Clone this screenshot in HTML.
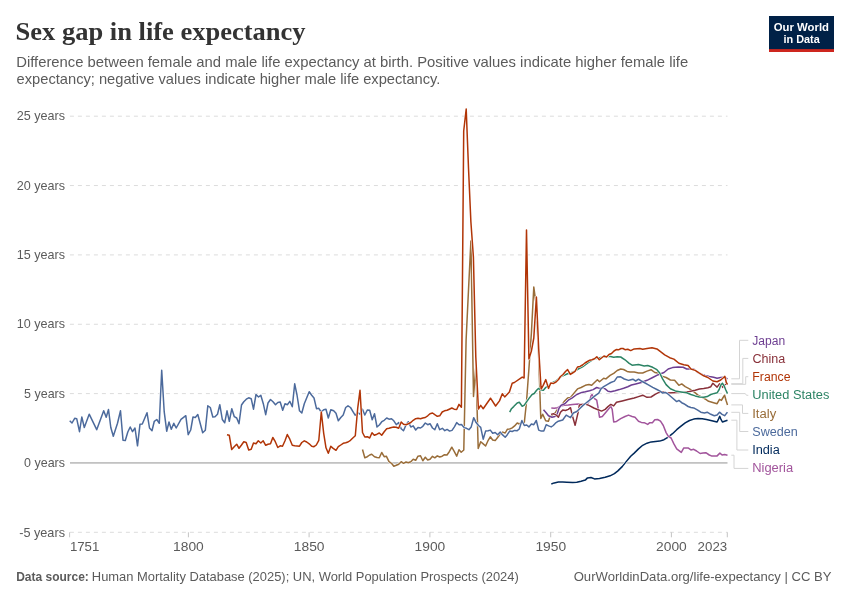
<!DOCTYPE html>
<html lang="en"><head><meta charset="utf-8"><title>Sex gap in life expectancy</title>
<style>html,body{margin:0;padding:0;background:#fff}svg{display:block}text{font-family:"Liberation Sans",Arial,sans-serif}.t{font-family:"Liberation Serif","Times New Roman",serif;font-weight:bold}.ln{fill:none;stroke-width:1.5;stroke-linejoin:round;stroke-linecap:butt}.ol{fill:none;stroke:#fff;stroke-width:2.5;stroke-linejoin:round}.cn{fill:none;stroke:#d4d4d4;stroke-width:1}</style></head><body>
<svg width="850" height="600" viewBox="0 0 850 600">
<rect width="850" height="600" fill="#fff"/>
<text class="t" x="15.6" y="39.9" font-size="26" fill="#333" textLength="290" lengthAdjust="spacingAndGlyphs">Sex gap in life expectancy</text>
<text x="16.2" y="66.8" font-size="15" fill="#5b5b5b" textLength="672" lengthAdjust="spacingAndGlyphs">Difference between female and male life expectancy at birth. Positive values indicate higher female life</text>
<text x="16.6" y="84.4" font-size="15" fill="#5b5b5b" textLength="423.8" lengthAdjust="spacingAndGlyphs">expectancy; negative values indicate higher male life expectancy.</text>
<g><rect x="769" y="16" width="65" height="36" fill="#002147"/><rect x="769" y="49.1" width="65" height="2.9" fill="#ce261e"/>
<text x="773.8" y="30.5" font-size="11.2" font-weight="bold" fill="#fff" textLength="55.2" lengthAdjust="spacingAndGlyphs">Our World</text>
<text x="783.5" y="42.7" font-size="11.2" font-weight="bold" fill="#fff" textLength="36.3" lengthAdjust="spacingAndGlyphs">in Data</text></g>
<line x1="69.9" x2="727.5" y1="116.2" y2="116.2" stroke="#dcdcdc" stroke-width="1" stroke-dasharray="4 4"/>
<text x="16.7" y="120.4" font-size="13" fill="#5b5b5b" textLength="48.3" lengthAdjust="spacingAndGlyphs">25 years</text>
<line x1="69.9" x2="727.5" y1="185.55" y2="185.55" stroke="#dcdcdc" stroke-width="1" stroke-dasharray="4 4"/>
<text x="16.7" y="189.8" font-size="13" fill="#5b5b5b" textLength="48.3" lengthAdjust="spacingAndGlyphs">20 years</text>
<line x1="69.9" x2="727.5" y1="254.9" y2="254.9" stroke="#dcdcdc" stroke-width="1" stroke-dasharray="4 4"/>
<text x="16.7" y="259.1" font-size="13" fill="#5b5b5b" textLength="48.3" lengthAdjust="spacingAndGlyphs">15 years</text>
<line x1="69.9" x2="727.5" y1="324.25" y2="324.25" stroke="#dcdcdc" stroke-width="1" stroke-dasharray="4 4"/>
<text x="16.7" y="328.4" font-size="13" fill="#5b5b5b" textLength="48.3" lengthAdjust="spacingAndGlyphs">10 years</text>
<line x1="69.9" x2="727.5" y1="393.6" y2="393.6" stroke="#dcdcdc" stroke-width="1" stroke-dasharray="4 4"/>
<text x="24.1" y="397.8" font-size="13" fill="#5b5b5b" textLength="40.9" lengthAdjust="spacingAndGlyphs">5 years</text>
<line x1="70.0" x2="727.5" y1="462.95" y2="462.95" stroke="#929292" stroke-width="1"/>
<text x="24.1" y="467.1" font-size="13" fill="#5b5b5b" textLength="40.9" lengthAdjust="spacingAndGlyphs">0 years</text>
<line x1="69.9" x2="727.5" y1="532.3" y2="532.3" stroke="#dcdcdc" stroke-width="1" stroke-dasharray="4 4"/>
<text x="19.2" y="536.5" font-size="13" fill="#5b5b5b" textLength="45.8" lengthAdjust="spacingAndGlyphs">-5 years</text>
<line x1="69.6" x2="69.6" y1="532.3" y2="537.3" stroke="#c4c4c4" stroke-width="1"/>
<text x="69.9" y="550.5" font-size="13" fill="#5b5b5b" textLength="29.4" lengthAdjust="spacingAndGlyphs">1751</text>
<line x1="188.4" x2="188.4" y1="532.3" y2="537.3" stroke="#c4c4c4" stroke-width="1"/>
<text x="173.1" y="550.5" font-size="13" fill="#5b5b5b" textLength="30.7" lengthAdjust="spacingAndGlyphs">1800</text>
<line x1="309.1" x2="309.1" y1="532.3" y2="537.3" stroke="#c4c4c4" stroke-width="1"/>
<text x="293.8" y="550.5" font-size="13" fill="#5b5b5b" textLength="30.7" lengthAdjust="spacingAndGlyphs">1850</text>
<line x1="429.9" x2="429.9" y1="532.3" y2="537.3" stroke="#c4c4c4" stroke-width="1"/>
<text x="414.6" y="550.5" font-size="13" fill="#5b5b5b" textLength="30.7" lengthAdjust="spacingAndGlyphs">1900</text>
<line x1="550.7" x2="550.7" y1="532.3" y2="537.3" stroke="#c4c4c4" stroke-width="1"/>
<text x="535.4" y="550.5" font-size="13" fill="#5b5b5b" textLength="30.7" lengthAdjust="spacingAndGlyphs">1950</text>
<line x1="671.4" x2="671.4" y1="532.3" y2="537.3" stroke="#c4c4c4" stroke-width="1"/>
<text x="656.1" y="550.5" font-size="13" fill="#5b5b5b" textLength="30.7" lengthAdjust="spacingAndGlyphs">2000</text>
<line x1="727.3" x2="727.3" y1="532.3" y2="537.3" stroke="#c4c4c4" stroke-width="1"/>
<text x="697.6" y="550.5" font-size="13" fill="#5b5b5b" textLength="29.6" lengthAdjust="spacingAndGlyphs">2023</text>
<path class="cn" d="M731.3,378.8H739.5V340.3H748.3"/>
<path class="cn" d="M731.3,383.7H742.8V358.4H748.3"/>
<path class="cn" d="M731.3,384.3H745.7V376.7H748.3"/>
<path class="cn" d="M731.3,393.6H745.3L746.5,395.3H748.3"/>
<path class="cn" d="M731.3,404.9H742.5V413.4H748.3"/>
<path class="cn" d="M731.3,412.3H739.7V431.5H748.3"/>
<path class="cn" d="M731.3,420.2H736.9V450H748.3"/>
<path class="cn" d="M731.3,455.2H734V468.4H748.3"/>
<polyline class="ol" points="551.3,484 554.2,482.9 558.4,481.9 562.7,481.9 566.9,482.2 572.6,482.6 576.8,482.2 581.1,481.2 585.3,480.1 587.5,477.9 591,477.5 594.5,478.9 599.5,478.4 605.2,477.2 610.1,475.8 614.4,473.7 617.9,470.9 622.2,466.6 626.4,461.4 630.7,456.3 634.2,453.1 638.5,448.9 642.7,445.3 647,443.2 651.2,441.9 655.5,441.5 659.7,441.1 664,439.7 668.2,437.1 672.5,433.7 676.7,429.7 681,426.2 685.2,422.9 689.5,420.5 693.7,419.1 698,418.4 702.2,418.7 706.5,419.5 710.8,420.5 715,421.5 717.1,422 718.5,419.1 719.7,416.3 720.9,419.1 722.4,422 724.6,421.2 727.5,420.2"/>
<polyline class="ln" stroke="#00295B" points="551.3,484 554.2,482.9 558.4,481.9 562.7,481.9 566.9,482.2 572.6,482.6 576.8,482.2 581.1,481.2 585.3,480.1 587.5,477.9 591,477.5 594.5,478.9 599.5,478.4 605.2,477.2 610.1,475.8 614.4,473.7 617.9,470.9 622.2,466.6 626.4,461.4 630.7,456.3 634.2,453.1 638.5,448.9 642.7,445.3 647,443.2 651.2,441.9 655.5,441.5 659.7,441.1 664,439.7 668.2,437.1 672.5,433.7 676.7,429.7 681,426.2 685.2,422.9 689.5,420.5 693.7,419.1 698,418.4 702.2,418.7 706.5,419.5 710.8,420.5 715,421.5 717.1,422 718.5,419.1 719.7,416.3 720.9,419.1 722.4,422 724.6,421.2 727.5,420.2"/>
<polyline class="ol" points="362.5,449.5 364.8,457.8 367.3,456.7 369.7,455 371.7,454.2 374.5,456.7 377,457.5 379.3,457.8 381.7,452.5 384.2,456.7 386.3,456.2 389,461.7 391.5,463.3 393.8,466.3 396.3,465.3 398.7,464.2 401.2,461.7 403.5,463.3 406,462 408.3,462.8 410.8,461.7 413.2,459.2 415.7,460.3 418,456.2 420.5,455.8 422.8,460.8 425.3,457.2 427.7,460 430,459.2 432.5,456.3 434.8,457.8 437.3,455.8 439.7,457 442.2,456.2 444.5,454.7 447,455 449.3,451.7 451.8,447.2 454.2,451.3 456.7,456.2 459,449.7 461.2,452.2 463.8,450 466.1,340 468.5,290 470.9,241 473.5,396.5 475.9,366 478.2,448.5 480.7,441.7 483.2,443.9 485.6,446 488.2,440.3 490.3,436.8 492.7,440 495.2,440.6 497.6,437.5 500.2,434 502.6,432.1 505.2,433 507.3,429.3 509.7,429 512.2,427.9 514.6,425.9 517.2,423 519.3,424 521.9,421.9 524.3,422.6 526.5,402 528.9,369 531.4,333 533.8,287 536.2,305 538.6,355 540.8,418.5 542.7,414.2 545.7,420.7 548.4,421.2 549.8,417.3 552.5,415 555.6,412.2 558.4,408 561.2,405.9 564.1,401.6 567.6,398.1 570.5,397.4 574,393.1 577.5,388.9 581.1,387.5 585.3,385.3 588.9,384.6 591.7,385.3 594.5,382.5 597.4,379.7 599.5,381.8 603.7,378.2 605.9,378.9 610.1,375.4 613.7,373.3 617.2,370.5 620.7,369 623.6,369.5 627.1,371.4 629.9,371.9 634.2,372.1 638.5,373 642.7,373 647,371.1 651,369.7 654.8,372.5 657.6,373 661.9,376.1 666.1,377.5 670.4,380 674.6,380.3 678.9,385.3 681.7,383.9 685.2,386.7 689.5,388.8 693.7,391.7 698,395.2 702.2,397.3 705.8,399.4 708.6,401.3 713.6,402.7 717.1,403.7 719.5,399.4 721.4,400.4 722.8,398 724.6,395.2 726,400.2 727.5,404.9"/>
<polyline class="ln" stroke="#996D39" points="362.5,449.5 364.8,457.8 367.3,456.7 369.7,455 371.7,454.2 374.5,456.7 377,457.5 379.3,457.8 381.7,452.5 384.2,456.7 386.3,456.2 389,461.7 391.5,463.3 393.8,466.3 396.3,465.3 398.7,464.2 401.2,461.7 403.5,463.3 406,462 408.3,462.8 410.8,461.7 413.2,459.2 415.7,460.3 418,456.2 420.5,455.8 422.8,460.8 425.3,457.2 427.7,460 430,459.2 432.5,456.3 434.8,457.8 437.3,455.8 439.7,457 442.2,456.2 444.5,454.7 447,455 449.3,451.7 451.8,447.2 454.2,451.3 456.7,456.2 459,449.7 461.2,452.2 463.8,450 466.1,340 468.5,290 470.9,241 473.5,396.5 475.9,366 478.2,448.5 480.7,441.7 483.2,443.9 485.6,446 488.2,440.3 490.3,436.8 492.7,440 495.2,440.6 497.6,437.5 500.2,434 502.6,432.1 505.2,433 507.3,429.3 509.7,429 512.2,427.9 514.6,425.9 517.2,423 519.3,424 521.9,421.9 524.3,422.6 526.5,402 528.9,369 531.4,333 533.8,287 536.2,305 538.6,355 540.8,418.5 542.7,414.2 545.7,420.7 548.4,421.2 549.8,417.3 552.5,415 555.6,412.2 558.4,408 561.2,405.9 564.1,401.6 567.6,398.1 570.5,397.4 574,393.1 577.5,388.9 581.1,387.5 585.3,385.3 588.9,384.6 591.7,385.3 594.5,382.5 597.4,379.7 599.5,381.8 603.7,378.2 605.9,378.9 610.1,375.4 613.7,373.3 617.2,370.5 620.7,369 623.6,369.5 627.1,371.4 629.9,371.9 634.2,372.1 638.5,373 642.7,373 647,371.1 651,369.7 654.8,372.5 657.6,373 661.9,376.1 666.1,377.5 670.4,380 674.6,380.3 678.9,385.3 681.7,383.9 685.2,386.7 689.5,388.8 693.7,391.7 698,395.2 702.2,397.3 705.8,399.4 708.6,401.3 713.6,402.7 717.1,403.7 719.5,399.4 721.4,400.4 722.8,398 724.6,395.2 726,400.2 727.5,404.9"/>
<polyline class="ol" points="551.3,408 554.2,408.3 557.7,407.7 560.5,405.9 564.1,405.2 568.3,404.9 572.6,404.4 578.2,404 582.5,404.4 587.5,403.7 589.6,400.9 591,395.9 592.1,394.5 593.8,398.1 596.7,400.2 598.1,408 599.5,417.2 602.3,416.5 605.9,412.2 609.4,408 610.8,406.3 612.2,409.4 613.7,421.9 616.5,421.4 620.7,418.6 625,416.5 628.5,415.1 632.1,416.5 635,417.3 638.5,421.2 641.3,422.4 644.2,422.7 647.7,424.4 649.8,422.7 652.4,422.7 654.8,419.8 657.6,419.5 660.5,421.2 663.3,425.5 666.1,432.6 668.2,436.1 671.1,438 673.9,443.9 676.7,448.9 681.3,452.4 683.8,447.9 688.1,447.9 690.9,449.9 693.7,449.3 696.6,451 700.1,453.5 703,453.1 705.8,452.7 709.3,455 711.4,455.9 717.1,455.9 719.9,453.1 722.1,455 724.6,454.5 727.5,455.2"/>
<polyline class="ln" stroke="#A2559C" points="551.3,408 554.2,408.3 557.7,407.7 560.5,405.9 564.1,405.2 568.3,404.9 572.6,404.4 578.2,404 582.5,404.4 587.5,403.7 589.6,400.9 591,395.9 592.1,394.5 593.8,398.1 596.7,400.2 598.1,408 599.5,417.2 602.3,416.5 605.9,412.2 609.4,408 610.8,406.3 612.2,409.4 613.7,421.9 616.5,421.4 620.7,418.6 625,416.5 628.5,415.1 632.1,416.5 635,417.3 638.5,421.2 641.3,422.4 644.2,422.7 647.7,424.4 649.8,422.7 652.4,422.7 654.8,419.8 657.6,419.5 660.5,421.2 663.3,425.5 666.1,432.6 668.2,436.1 671.1,438 673.9,443.9 676.7,448.9 681.3,452.4 683.8,447.9 688.1,447.9 690.9,449.9 693.7,449.3 696.6,451 700.1,453.5 703,453.1 705.8,452.7 709.3,455 711.4,455.9 717.1,455.9 719.9,453.1 722.1,455 724.6,454.5 727.5,455.2"/>
<polyline class="ol" points="543.5,409.7 545.7,412.2 548.5,415.8 552,417.2 554.9,416.5 557,414.4 559.1,408 561.2,405.2 564.8,403.7 568.3,400.2 571.9,398.1 576.8,394.5 581.8,392.4 585.3,391.7 589.6,390.7 593.1,389.6 596.7,387.5 599.5,388.4 602.3,387.9 605.2,388.9 608,391.3 610.8,391.7 615.1,390.7 619.3,389.6 623.6,388.2 627.8,386.7 631.4,385 635.7,383.9 641.3,382.5 647,380.3 652.7,377.5 658.3,374.7 664,372.5 668.2,369 672.5,367.6 678.2,366.9 683.1,367.3 686.7,369 693.7,369 696.6,371.8 700.8,374 705.1,375.4 709.3,376.4 713.6,377.2 717.1,378.2 720.7,377.5 723.5,377.2 724.9,377.5 727.5,378.8"/>
<polyline class="ln" stroke="#6D3E91" points="543.5,409.7 545.7,412.2 548.5,415.8 552,417.2 554.9,416.5 557,414.4 559.1,408 561.2,405.2 564.8,403.7 568.3,400.2 571.9,398.1 576.8,394.5 581.8,392.4 585.3,391.7 589.6,390.7 593.1,389.6 596.7,387.5 599.5,388.4 602.3,387.9 605.2,388.9 608,391.3 610.8,391.7 615.1,390.7 619.3,389.6 623.6,388.2 627.8,386.7 631.4,385 635.7,383.9 641.3,382.5 647,380.3 652.7,377.5 658.3,374.7 664,372.5 668.2,369 672.5,367.6 678.2,366.9 683.1,367.3 686.7,369 693.7,369 696.6,371.8 700.8,374 705.1,375.4 709.3,376.4 713.6,377.2 717.1,378.2 720.7,377.5 723.5,377.2 724.9,377.5 727.5,378.8"/>
<polyline class="ol" points="551,414.4 553.5,413.7 556.3,415.1 558.4,417.2 560.5,412.2 562.7,410.1 565.5,410.5 568.3,409.4 570.5,407.7 572.6,416.5 575.1,425.3 578,412.8 579.4,404.9 581.8,404.4 585.3,404 588.9,405.4 593.8,408 598.1,409.7 601.6,411.1 605.2,409.4 608,406.6 610.8,404.4 613.7,405.9 616.5,402.3 622.2,400.9 627.8,399.5 634.2,398 638.5,396.6 642.7,395.2 647,397.3 651,397 655.5,394.2 659,392.4 662.6,391.7 666.8,393.1 672.5,392.8 678.2,392.4 683.8,391.7 689.5,391.4 695.2,390.2 699.4,389.1 703.7,388.5 707.9,387.7 710.8,386.7 712.9,383.2 715,385.3 717.1,387.1 719.5,383.9 721.4,385.3 722.8,387.4 724.9,384.6 727.5,383.7"/>
<polyline class="ln" stroke="#883039" points="551,414.4 553.5,413.7 556.3,415.1 558.4,417.2 560.5,412.2 562.7,410.1 565.5,410.5 568.3,409.4 570.5,407.7 572.6,416.5 575.1,425.3 578,412.8 579.4,404.9 581.8,404.4 585.3,404 588.9,405.4 593.8,408 598.1,409.7 601.6,411.1 605.2,409.4 608,406.6 610.8,404.4 613.7,405.9 616.5,402.3 622.2,400.9 627.8,399.5 634.2,398 638.5,396.6 642.7,395.2 647,397.3 651,397 655.5,394.2 659,392.4 662.6,391.7 666.8,393.1 672.5,392.8 678.2,392.4 683.8,391.7 689.5,391.4 695.2,390.2 699.4,389.1 703.7,388.5 707.9,387.7 710.8,386.7 712.9,383.2 715,385.3 717.1,387.1 719.5,383.9 721.4,385.3 722.8,387.4 724.9,384.6 727.5,383.7"/>
<polyline class="ol" points="69.7,420.8 72,423 74.7,418.3 76.7,418.7 79.5,431.7 81.8,417 84.3,427.5 89.2,414.2 96.7,429.7 103.7,410.8 106.2,417.2 108.5,409.5 110.8,427.5 113.3,436.3 117.5,423.3 120.5,410.8 123,440.3 125.3,440.5 127.8,432 130.2,427 132.5,431.7 135,428 137.5,445.8 140,424.2 142.3,424 147,412.7 149.5,428 152,430.7 154.3,421.3 156.8,419.5 159.3,423.3 161.7,370.3 164.2,411.7 166.7,431.2 169,422 171.3,429.2 173.8,423.3 176.2,428 181,419.3 185.8,415.7 188.2,434.7 190.7,430 193,417 195.3,417.5 197.8,414.5 202.7,432.7 205.3,430.3 207.8,405.8 210.3,407.5 212.8,417 215,416.7 217.5,414.2 219.8,404.7 222.3,419.5 224.7,422.8 227,410.8 229.3,421.3 231.8,408.7 234.3,416.7 236.7,418 239,423.7 241.5,405 243.8,401.7 246.3,399.2 248.7,397.8 251.2,398.7 253.5,409.2 256,394.5 258.5,397 260.8,395.3 263.3,403.7 265.7,414.7 268,403 270.5,399.5 273,401.7 275.5,404.7 277.8,402.5 280.2,402 282.7,410.3 285,403.7 287.5,404.7 289.8,401.3 292.3,406.7 294.7,383.8 297,395 299.5,410.8 301.8,413 304.3,403.7 309.2,391.7 311.7,395.3 314,398 316.5,408.7 318.8,408.3 321.2,412 323.7,409.7 326,409.2 328.3,418 330.8,409.7 333.7,410.8 336,413.3 338.3,420.8 340.8,417.5 343.2,415 345.7,407.5 348,405.8 350.5,407.5 352.8,411.3 355.3,415.3 357.7,412.5 360,414.2 362.5,409.2 364.8,415 367.3,410 369.7,410.3 372.2,419.7 374.5,413.7 377,427 379.3,425 381.8,421.7 384.2,420.3 386.7,418 389,419.2 391.5,418.7 393.8,420.8 396.3,424.7 398.7,422.5 401.2,428.7 403.5,430.8 406,425 408.3,421.7 410.8,427 413.2,425.8 415.7,430 418,427.5 420.5,428 422.8,426.3 425.3,423 427.7,424.7 430,423.7 432.5,428 434.8,429.7 437.3,423.8 439.7,429.7 442.4,428.3 444.8,430.7 447.1,429.4 449.6,431.1 452,430.4 454.4,426.9 456.7,422.6 459.1,424.7 461.5,424.5 464.1,427.6 466.5,428.3 468.9,429.7 471.2,426.9 473.7,417.7 476.1,422.6 478.5,425.5 480.7,427.3 483.2,439.2 485.6,431.1 488.2,430.7 490.3,430.1 492.7,433.2 495.2,432.5 497.6,434.7 500.2,432.1 502.6,434.9 505.2,437.2 507.3,434.7 509.7,431.1 512.2,431.5 514.6,430.4 517.2,430.7 519.3,429 521.9,420.5 524.3,425.5 526.7,425 528.9,426.9 531.4,424 533.8,424.7 536.3,420.5 538.7,430.1 541.3,431.1 543.8,431.1 546.2,424.7 548.6,425.9 551.2,426.9 553.3,425.5 556.1,422.6 558.3,421.2 562.7,420 566.2,415.1 570.5,417.6 573.3,413 576.8,411.5 580.4,408 582.5,405.9 586,403 589.6,400.2 593.1,397.4 595.9,395.2 598.8,393.1 600.9,388.9 603.7,386.7 608,384.2 610.8,382.5 614.4,381.1 617.2,377.1 620.7,376.8 624.3,379 628.5,380.4 630,380 632.8,379.2 635.7,381 638.5,379.2 641.3,381 644.2,382.5 648.4,384.9 652.7,387.4 656.9,389.5 660.5,391.4 662.6,393.1 665.4,392.4 668.2,394.2 672.5,398 676.7,401.6 678.9,400.4 681.7,402.7 683.8,403.7 688.1,406.5 690.9,407.5 693.7,407.9 697.3,409.8 700.8,412.2 704.4,412.9 707.2,412.2 710.8,414.3 714.3,415.7 717.1,415 719.5,412.2 722.1,414.3 724.6,415.7 726.3,413.6 727.5,412.3"/>
<polyline class="ln" stroke="#4C6A9C" points="69.7,420.8 72,423 74.7,418.3 76.7,418.7 79.5,431.7 81.8,417 84.3,427.5 89.2,414.2 96.7,429.7 103.7,410.8 106.2,417.2 108.5,409.5 110.8,427.5 113.3,436.3 117.5,423.3 120.5,410.8 123,440.3 125.3,440.5 127.8,432 130.2,427 132.5,431.7 135,428 137.5,445.8 140,424.2 142.3,424 147,412.7 149.5,428 152,430.7 154.3,421.3 156.8,419.5 159.3,423.3 161.7,370.3 164.2,411.7 166.7,431.2 169,422 171.3,429.2 173.8,423.3 176.2,428 181,419.3 185.8,415.7 188.2,434.7 190.7,430 193,417 195.3,417.5 197.8,414.5 202.7,432.7 205.3,430.3 207.8,405.8 210.3,407.5 212.8,417 215,416.7 217.5,414.2 219.8,404.7 222.3,419.5 224.7,422.8 227,410.8 229.3,421.3 231.8,408.7 234.3,416.7 236.7,418 239,423.7 241.5,405 243.8,401.7 246.3,399.2 248.7,397.8 251.2,398.7 253.5,409.2 256,394.5 258.5,397 260.8,395.3 263.3,403.7 265.7,414.7 268,403 270.5,399.5 273,401.7 275.5,404.7 277.8,402.5 280.2,402 282.7,410.3 285,403.7 287.5,404.7 289.8,401.3 292.3,406.7 294.7,383.8 297,395 299.5,410.8 301.8,413 304.3,403.7 309.2,391.7 311.7,395.3 314,398 316.5,408.7 318.8,408.3 321.2,412 323.7,409.7 326,409.2 328.3,418 330.8,409.7 333.7,410.8 336,413.3 338.3,420.8 340.8,417.5 343.2,415 345.7,407.5 348,405.8 350.5,407.5 352.8,411.3 355.3,415.3 357.7,412.5 360,414.2 362.5,409.2 364.8,415 367.3,410 369.7,410.3 372.2,419.7 374.5,413.7 377,427 379.3,425 381.8,421.7 384.2,420.3 386.7,418 389,419.2 391.5,418.7 393.8,420.8 396.3,424.7 398.7,422.5 401.2,428.7 403.5,430.8 406,425 408.3,421.7 410.8,427 413.2,425.8 415.7,430 418,427.5 420.5,428 422.8,426.3 425.3,423 427.7,424.7 430,423.7 432.5,428 434.8,429.7 437.3,423.8 439.7,429.7 442.4,428.3 444.8,430.7 447.1,429.4 449.6,431.1 452,430.4 454.4,426.9 456.7,422.6 459.1,424.7 461.5,424.5 464.1,427.6 466.5,428.3 468.9,429.7 471.2,426.9 473.7,417.7 476.1,422.6 478.5,425.5 480.7,427.3 483.2,439.2 485.6,431.1 488.2,430.7 490.3,430.1 492.7,433.2 495.2,432.5 497.6,434.7 500.2,432.1 502.6,434.9 505.2,437.2 507.3,434.7 509.7,431.1 512.2,431.5 514.6,430.4 517.2,430.7 519.3,429 521.9,420.5 524.3,425.5 526.7,425 528.9,426.9 531.4,424 533.8,424.7 536.3,420.5 538.7,430.1 541.3,431.1 543.8,431.1 546.2,424.7 548.6,425.9 551.2,426.9 553.3,425.5 556.1,422.6 558.3,421.2 562.7,420 566.2,415.1 570.5,417.6 573.3,413 576.8,411.5 580.4,408 582.5,405.9 586,403 589.6,400.2 593.1,397.4 595.9,395.2 598.8,393.1 600.9,388.9 603.7,386.7 608,384.2 610.8,382.5 614.4,381.1 617.2,377.1 620.7,376.8 624.3,379 628.5,380.4 630,380 632.8,379.2 635.7,381 638.5,379.2 641.3,381 644.2,382.5 648.4,384.9 652.7,387.4 656.9,389.5 660.5,391.4 662.6,393.1 665.4,392.4 668.2,394.2 672.5,398 676.7,401.6 678.9,400.4 681.7,402.7 683.8,403.7 688.1,406.5 690.9,407.5 693.7,407.9 697.3,409.8 700.8,412.2 704.4,412.9 707.2,412.2 710.8,414.3 714.3,415.7 717.1,415 719.5,412.2 722.1,414.3 724.6,415.7 726.3,413.6 727.5,412.3"/>
<polyline class="ol" points="509.7,412.2 511.5,408.7 513.7,406.6 517.2,403 519.3,402.3 522.2,406.3 524.3,405.2 526.7,401.6 529.2,398.1 532.1,394.5 534.2,393.5 536.6,390.3 538.7,388.4 540.8,389.9 543.4,390.3 545.7,387.5 551.3,383.2 555.6,381.1 561.2,376.5 566.9,374 572.6,372.3 578.2,369 582.5,366.9 588.2,362.7 593.8,359.1 599.5,357.7 605.2,356.7 609.4,356.3 613.7,357.3 617.2,356.7 620.7,357 625,359.8 629.2,363.4 632.1,365.2 634.2,365 638.5,364.5 644.2,365.9 647.7,365.5 652.7,367.3 656.9,369.7 659.7,373 662.6,378.9 666.1,384.6 670.4,388.8 675.3,390.9 681,391.9 686.7,392.8 690.9,394.5 695.2,395.9 699.4,397 703.7,397.3 707.2,396.6 710.8,394.5 714.3,393.4 717.1,392.8 719.2,389.5 720.7,385.3 722.4,383.2 724.2,386 725.6,389.5 727.5,393.6"/>
<polyline class="ln" stroke="#2C8465" points="509.7,412.2 511.5,408.7 513.7,406.6 517.2,403 519.3,402.3 522.2,406.3 524.3,405.2 526.7,401.6 529.2,398.1 532.1,394.5 534.2,393.5 536.6,390.3 538.7,388.4 540.8,389.9 543.4,390.3 545.7,387.5 551.3,383.2 555.6,381.1 561.2,376.5 566.9,374 572.6,372.3 578.2,369 582.5,366.9 588.2,362.7 593.8,359.1 599.5,357.7 605.2,356.7 609.4,356.3 613.7,357.3 617.2,356.7 620.7,357 625,359.8 629.2,363.4 632.1,365.2 634.2,365 638.5,364.5 644.2,365.9 647.7,365.5 652.7,367.3 656.9,369.7 659.7,373 662.6,378.9 666.1,384.6 670.4,388.8 675.3,390.9 681,391.9 686.7,392.8 690.9,394.5 695.2,395.9 699.4,397 703.7,397.3 707.2,396.6 710.8,394.5 714.3,393.4 717.1,392.8 719.2,389.5 720.7,385.3 722.4,383.2 724.2,386 725.6,389.5 727.5,393.6"/>
<polyline class="ol" points="227,434.7 229.3,435.3 231.7,449.5 234.2,446.7 236.7,444.2 239,448.3 241.5,445 243.8,441.7 246.2,442.5 248.7,450 251.2,449.2 253.5,443 256,443.7 258.3,440.8 260.8,443 263.2,440.8 265.7,445.3 268,444.2 270.5,443.7 272.8,437.5 275.3,441.7 277.8,447.5 280.2,445.8 282.5,446.3 285,440.8 287.3,434.5 289.8,439.2 292.3,445.3 294.7,445.8 299.5,446.2 301.8,442.5 304.3,440.8 306.7,442 309.2,443.8 311.7,446.2 314,446.7 316.3,445 318.8,440.3 321.3,412 323.7,433.3 326,447.8 328.3,453.3 330.8,446.3 333.2,448.3 336,450.3 338.3,446.7 340.8,445 343.2,443.3 345.7,442.8 348,442 350.5,440.3 352.8,438 355.3,435.8 357.7,408.3 360,390.3 362.5,432.5 364.8,437 367.3,436.7 369.7,438 372,432.8 374.3,435.3 377,434.2 379.3,433 381.7,435.3 384.2,431.7 386.7,428.7 389,428.3 391.5,427.5 393.8,427 396.3,427.2 398.7,428.3 401.2,422 403.5,424.2 406,424.7 408.3,423.7 410.8,422.5 413.2,420.3 415.7,418.7 418,418.3 420.5,418.7 422.8,418 425.3,417.5 427.7,415.8 430,413.7 432.5,413 434.8,414.7 437.3,416.3 439.7,415.8 442.2,412 444.5,410.8 447,410.3 449.3,409.2 451.8,408 454.2,409.2 456.7,409.5 459,404.4 461.4,407.2 463.7,131 466.2,109 468.5,168 470.9,222 473.4,257 475.8,357 478.4,409 480.7,405.4 483.2,408.7 490.5,398.2 495.6,406 499.5,400.9 502.3,393.8 504.7,396.9 509.4,392.1 512.2,383.2 514.4,382.5 522.2,377.1 524.1,378 526.5,230 528.9,359 531.4,351 533.8,338 536.4,297 538.7,349 541.1,389 543.2,385.4 545.8,379.6 548.5,388.4 550.8,383 553.5,383.4 556,382 558.5,379.5 560.5,376.5 563,374.5 565.5,371.5 567.6,369.6 570.3,374.4 572.5,373 575,371.4 577.5,367 580,366.4 582.5,365 585,363 587.5,361.5 589.8,360.2 592,359.8 594.5,358.8 596.8,356.8 599.3,359.7 601.5,358 604,356 606.5,357 609,354.5 611.5,353.5 614,351 616.2,349.6 618.5,349.8 621,348.5 623,348.5 625,349.7 627.8,349.2 630.7,350.6 634.2,348.9 639.9,348.5 642.7,349.2 647,348.5 652,347.7 656.9,348.9 660.5,351.7 664.7,354.8 669.7,357.7 673.9,359.1 678.9,363.3 683.8,364.7 688.1,365.5 690.9,369 695.2,370.4 699.4,373.2 703.7,375.8 707.9,377.5 712.9,381 717.1,381.7 720.7,380 722.8,378.2 724.9,376.4 726.3,382.5 727.5,384.3"/>
<polyline class="ln" stroke="#B13507" points="227,434.7 229.3,435.3 231.7,449.5 234.2,446.7 236.7,444.2 239,448.3 241.5,445 243.8,441.7 246.2,442.5 248.7,450 251.2,449.2 253.5,443 256,443.7 258.3,440.8 260.8,443 263.2,440.8 265.7,445.3 268,444.2 270.5,443.7 272.8,437.5 275.3,441.7 277.8,447.5 280.2,445.8 282.5,446.3 285,440.8 287.3,434.5 289.8,439.2 292.3,445.3 294.7,445.8 299.5,446.2 301.8,442.5 304.3,440.8 306.7,442 309.2,443.8 311.7,446.2 314,446.7 316.3,445 318.8,440.3 321.3,412 323.7,433.3 326,447.8 328.3,453.3 330.8,446.3 333.2,448.3 336,450.3 338.3,446.7 340.8,445 343.2,443.3 345.7,442.8 348,442 350.5,440.3 352.8,438 355.3,435.8 357.7,408.3 360,390.3 362.5,432.5 364.8,437 367.3,436.7 369.7,438 372,432.8 374.3,435.3 377,434.2 379.3,433 381.7,435.3 384.2,431.7 386.7,428.7 389,428.3 391.5,427.5 393.8,427 396.3,427.2 398.7,428.3 401.2,422 403.5,424.2 406,424.7 408.3,423.7 410.8,422.5 413.2,420.3 415.7,418.7 418,418.3 420.5,418.7 422.8,418 425.3,417.5 427.7,415.8 430,413.7 432.5,413 434.8,414.7 437.3,416.3 439.7,415.8 442.2,412 444.5,410.8 447,410.3 449.3,409.2 451.8,408 454.2,409.2 456.7,409.5 459,404.4 461.4,407.2 463.7,131 466.2,109 468.5,168 470.9,222 473.4,257 475.8,357 478.4,409 480.7,405.4 483.2,408.7 490.5,398.2 495.6,406 499.5,400.9 502.3,393.8 504.7,396.9 509.4,392.1 512.2,383.2 514.4,382.5 522.2,377.1 524.1,378 526.5,230 528.9,359 531.4,351 533.8,338 536.4,297 538.7,349 541.1,389 543.2,385.4 545.8,379.6 548.5,388.4 550.8,383 553.5,383.4 556,382 558.5,379.5 560.5,376.5 563,374.5 565.5,371.5 567.6,369.6 570.3,374.4 572.5,373 575,371.4 577.5,367 580,366.4 582.5,365 585,363 587.5,361.5 589.8,360.2 592,359.8 594.5,358.8 596.8,356.8 599.3,359.7 601.5,358 604,356 606.5,357 609,354.5 611.5,353.5 614,351 616.2,349.6 618.5,349.8 621,348.5 623,348.5 625,349.7 627.8,349.2 630.7,350.6 634.2,348.9 639.9,348.5 642.7,349.2 647,348.5 652,347.7 656.9,348.9 660.5,351.7 664.7,354.8 669.7,357.7 673.9,359.1 678.9,363.3 683.8,364.7 688.1,365.5 690.9,369 695.2,370.4 699.4,373.2 703.7,375.8 707.9,377.5 712.9,381 717.1,381.7 720.7,380 722.8,378.2 724.9,376.4 726.3,382.5 727.5,384.3"/>
<text x="752.3" y="344.7" font-size="12" fill="#6D3E91" textLength="32.9" lengthAdjust="spacingAndGlyphs">Japan</text>
<text x="752.5" y="362.8" font-size="12" fill="#883039" textLength="32.8" lengthAdjust="spacingAndGlyphs">China</text>
<text x="752.3" y="381.2" font-size="12" fill="#B13507" textLength="38.2" lengthAdjust="spacingAndGlyphs">France</text>
<text x="752.3" y="399.4" font-size="12" fill="#2C8465" textLength="77" lengthAdjust="spacingAndGlyphs">United States</text>
<text x="752.2" y="417.7" font-size="12" fill="#996D39" textLength="24" lengthAdjust="spacingAndGlyphs">Italy</text>
<text x="752.3" y="436.0" font-size="12" fill="#4C6A9C" textLength="45.5" lengthAdjust="spacingAndGlyphs">Sweden</text>
<text x="752.2" y="454.2" font-size="12" fill="#00295B" textLength="27.6" lengthAdjust="spacingAndGlyphs">India</text>
<text x="752.2" y="472.4" font-size="12" fill="#A2559C" textLength="41" lengthAdjust="spacingAndGlyphs">Nigeria</text>
<text x="16.2" y="580.8" font-size="13" font-weight="bold" fill="#5b5b5b" textLength="72.6" lengthAdjust="spacingAndGlyphs">Data source:</text>
<text x="91.8" y="580.8" font-size="13" fill="#5b5b5b" textLength="427" lengthAdjust="spacingAndGlyphs">Human Mortality Database (2025); UN, World Population Prospects (2024)</text>
<text x="573.7" y="580.8" font-size="13" fill="#5b5b5b" textLength="257.8" lengthAdjust="spacingAndGlyphs">OurWorldinData.org/life-expectancy | CC BY</text>
</svg></body></html>
